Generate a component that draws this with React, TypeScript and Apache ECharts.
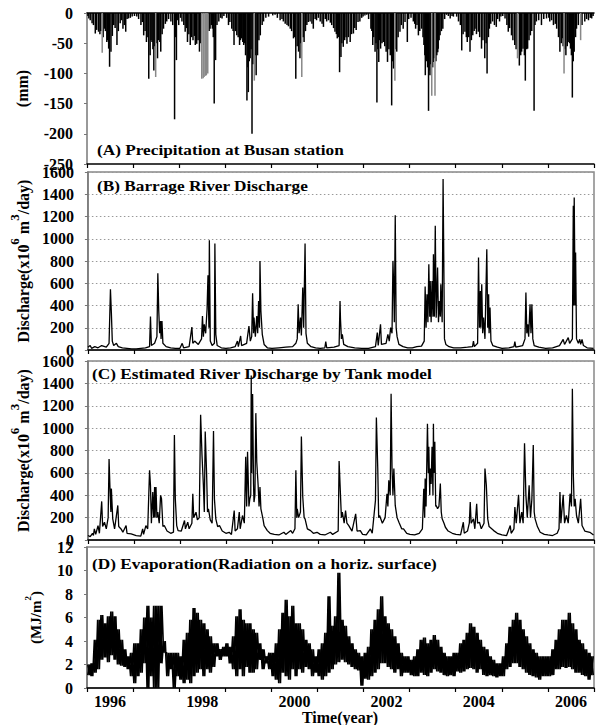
import React, { useEffect, useRef } from 'react';
import * as echarts from 'echarts';

// ---------- DATA (decimal year, value) ----------
const yearLabels = [1996, 1998, 2000, 2002, 2004, 2006];

// (A) daily precipitation at Busan, mm (plotted downward)
const precipBlack: number[][] = [
  [1996.02,-5],[1996.04,-9],[1996.07,-12],[1996.11,-17],[1996.14,-20],[1996.18,-34],[1996.21,-28],[1996.25,-31],[1996.28,-35],[1996.30,-30],[1996.35,-40],[1996.38,-26],[1996.40,-30],[1996.43,-48],[1996.45,-45],[1996.47,-59],[1996.49,-89],[1996.52,-64],[1996.55,-38],[1996.58,-20],[1996.61,-25],[1996.65,-53],[1996.68,-30],[1996.72,-17],[1996.75,-12],[1996.78,-26],[1996.81,-20],[1996.84,-31],[1996.87,-10],[1996.90,-9],[1996.94,-8],[1996.98,-6],
  [1997.03,-5],[1997.08,-6],[1997.12,-10],[1997.17,-20],[1997.20,-15],[1997.23,-37],[1997.26,-30],[1997.29,-48],[1997.32,-40],[1997.34,-109],[1997.37,-70],[1997.39,-45],[1997.41,-48],[1997.43,-60],[1997.45,-95],[1997.47,-55],[1997.51,-50],[1997.53,-75],[1997.55,-45],[1997.58,-48],[1997.60,-64],[1997.63,-35],[1997.66,-26],[1997.70,-18],[1997.73,-14],[1997.77,-10],[1997.82,-14],[1997.86,-20],[1997.90,-176],[1997.92,-40],[1997.94,-78],[1997.97,-12],[1997.99,-20],
  [1998.03,-8],[1998.06,-14],[1998.10,-20],[1998.13,-31],[1998.16,-25],[1998.18,-48],[1998.21,-35],[1998.24,-53],[1998.27,-40],[1998.30,-45],[1998.33,-38],[1998.35,-53],[1998.38,-51],[1998.41,-45],[1998.44,-64],[1998.47,-50],[1998.65,-30],[1998.67,-26],[1998.70,-20],[1998.72,-26],[1998.74,-40],[1998.76,-150],[1998.79,-78],[1998.82,-20],[1998.86,-14],[1998.90,-8],[1998.93,-9],[1998.97,-5],
  [1999.03,-8],[1999.07,-20],[1999.10,-15],[1999.14,-26],[1999.17,-30],[1999.19,-53],[1999.22,-30],[1999.25,-37],[1999.28,-40],[1999.31,-53],[1999.33,-45],[1999.35,-42],[1999.38,-48],[1999.40,-53],[1999.42,-50],[1999.44,-70],[1999.47,-145],[1999.49,-90],[1999.50,-131],[1999.52,-80],[1999.54,-75],[1999.56,-60],[1999.58,-200],[1999.60,-85],[1999.65,-70],[1999.67,-103],[1999.70,-70],[1999.73,-45],[1999.76,-37],[1999.80,-20],[1999.83,-14],[1999.88,-8],[1999.94,-6],
  [2000.03,-4],[2000.08,-3],[2000.13,-8],[2000.19,-12],[2000.23,-10],[2000.26,-14],[2000.30,-18],[2000.34,-20],[2000.37,-22],[2000.41,-26],[2000.44,-30],[2000.48,-42],[2000.50,-40],[2000.53,-109],[2000.56,-55],[2000.59,-64],[2000.62,-75],[2000.64,-50],[2000.69,-40],[2000.71,-48],[2000.74,-30],[2000.77,-20],[2000.80,-15],[2000.84,-14],[2000.88,-18],[2000.91,-26],[2000.95,-10],[2000.98,-12],
  [2001.02,-8],[2001.06,-14],[2001.10,-18],[2001.13,-23],[2001.17,-10],[2001.20,-14],[2001.24,-12],[2001.28,-16],[2001.31,-20],[2001.35,-25],[2001.38,-31],[2001.41,-35],[2001.43,-42],[2001.46,-40],[2001.48,-98],[2001.51,-73],[2001.53,-50],[2001.56,-56],[2001.59,-45],[2001.62,-40],[2001.64,-51],[2001.67,-40],[2001.71,-48],[2001.74,-35],[2001.78,-34],[2001.81,-25],[2001.84,-28],[2001.88,-15],[2001.92,-14],[2001.96,-8],[2001.99,-6],
  [2002.03,-4],[2002.07,-3],[2002.11,-10],[2002.16,-26],[2002.18,-30],[2002.20,-53],[2002.22,-40],[2002.25,-64],[2002.27,-50],[2002.29,-148],[2002.31,-60],[2002.33,-81],[2002.35,-45],[2002.37,-59],[2002.40,-50],[2002.43,-48],[2002.46,-55],[2002.49,-64],[2002.52,-81],[2002.55,-60],[2002.58,-70],[2002.61,-153],[2002.63,-80],[2002.65,-92],[2002.70,-60],[2002.72,-64],[2002.75,-40],[2002.79,-31],[2002.82,-20],[2002.86,-26],[2002.90,-15],[2002.95,-48],[2002.98,-10],
  [2003.03,-8],[2003.08,-14],[2003.11,-18],[2003.13,-26],[2003.16,-20],[2003.19,-37],[2003.22,-30],[2003.26,-26],[2003.29,-40],[2003.31,-53],[2003.33,-70],[2003.34,-103],[2003.36,-80],[2003.37,-75],[2003.39,-90],[2003.41,-162],[2003.42,-95],[2003.44,-103],[2003.46,-85],[2003.50,-90],[2003.51,-81],[2003.53,-75],[2003.57,-80],[2003.59,-70],[2003.61,-65],[2003.62,-59],[2003.64,-45],[2003.66,-37],[2003.69,-30],[2003.72,-26],[2003.76,-10],[2003.80,-3],[2003.84,-5],[2003.88,-9],[2003.92,-5],[2003.95,-6],
  [2004.02,-6],[2004.06,-14],[2004.10,-20],[2004.13,-62],[2004.16,-35],[2004.20,-31],[2004.23,-40],[2004.25,-48],[2004.28,-40],[2004.31,-64],[2004.34,-45],[2004.37,-37],[2004.40,-30],[2004.42,-26],[2004.45,-35],[2004.49,-31],[2004.52,-40],[2004.56,-59],[2004.59,-45],[2004.63,-75],[2004.66,-50],[2004.68,-100],[2004.71,-40],[2004.73,-26],[2004.76,-18],[2004.80,-14],[2004.84,-20],[2004.88,-23],[2004.91,-10],[2004.95,-14],[2004.98,-6],
  [2005.02,-5],[2005.07,-9],[2005.11,-20],[2005.14,-31],[2005.17,-25],[2005.21,-37],[2005.24,-45],[2005.28,-53],[2005.31,-60],[2005.38,-87],[2005.41,-70],[2005.43,-64],[2005.46,-59],[2005.49,-70],[2005.51,-112],[2005.54,-60],[2005.56,-59],[2005.59,-45],[2005.62,-37],[2005.65,-30],[2005.70,-162],[2005.72,-20],[2005.75,-14],[2005.80,-12],[2005.86,-20],[2005.91,-10],[2005.97,-9],
  [2006.02,-8],[2006.04,-14],[2006.08,-12],[2006.12,-20],[2006.16,-18],[2006.19,-26],[2006.23,-40],[2006.26,-64],[2006.29,-50],[2006.31,-42],[2006.33,-55],[2006.37,-60],[2006.39,-70],[2006.42,-55],[2006.44,-48],[2006.47,-50],[2006.49,-59],[2006.51,-70],[2006.53,-140],[2006.55,-80],[2006.57,-64],[2006.60,-40],[2006.62,-26],[2006.66,-20],[2006.74,-20],[2006.80,-14],[2006.84,-10],[2006.88,-12],[2006.92,-8],[2006.95,-9],[2006.98,-5],
];
const precipGray: number[][] = [
  [1996.33,-66],[1997.49,-106],[1998.49,-109],[1998.52,-108],[1998.54,-106],[1998.57,-104],[1998.59,-103],[1998.62,-100],
  [1999.63,-112],[2000.66,-106],[2002.68,-112],[2003.48,-137],[2003.55,-137],[2005.34,-75],[2006.35,-100],[2006.71,-45],
];

// (B) observed barrage river discharge, x10^6 m3/day
const barrageDischarge: number[][] = [
  [1996.00,25],[1996.05,40],[1996.08,15],[1996.15,30],[1996.22,20],[1996.30,40],[1996.40,25],[1996.46,60],[1996.49,546],[1996.51,336],[1996.53,80],[1996.56,40],[1996.62,60],[1996.66,30],[1996.75,20],[1996.85,15],[1996.95,10],
  [1997.05,10],[1997.15,15],[1997.25,20],[1997.34,30],[1997.36,300],[1997.38,40],[1997.45,60],[1997.50,120],[1997.52,690],[1997.54,351],[1997.56,150],[1997.58,261],[1997.59,100],[1997.61,261],[1997.63,60],[1997.70,30],[1997.80,20],[1997.90,15],
  [1998.00,15],[1998.05,60],[1998.08,20],[1998.20,30],[1998.26,207],[1998.28,60],[1998.32,80],[1998.40,50],[1998.47,100],[1998.49,306],[1998.51,120],[1998.53,231],[1998.56,150],[1998.59,366],[1998.61,672],[1998.63,200],[1998.64,987],[1998.66,81],[1998.70,40],[1998.75,60],[1998.76,957],[1998.78,141],[1998.81,40],[1998.90,20],
  [1999.00,15],[1999.10,20],[1999.20,30],[1999.25,81],[1999.27,30],[1999.32,126],[1999.34,40],[1999.45,60],[1999.50,216],[1999.53,80],[1999.56,120],[1999.58,510],[1999.60,150],[1999.61,291],[1999.64,120],[1999.67,306],[1999.69,150],[1999.71,441],[1999.73,200],[1999.74,801],[1999.76,351],[1999.79,141],[1999.83,50],[1999.90,20],
  [2000.00,15],[2000.15,20],[2000.30,25],[2000.45,30],[2000.52,60],[2000.55,100],[2000.57,411],[2000.59,150],[2000.62,291],[2000.64,130],[2000.67,561],[2000.69,200],[2000.72,957],[2000.74,150],[2000.77,60],[2000.85,30],[2000.95,20],
  [2001.05,15],[2001.15,20],[2001.17,75],[2001.19,20],[2001.35,25],[2001.46,40],[2001.48,441],[2001.49,276],[2001.51,100],[2001.53,141],[2001.56,50],[2001.65,30],[2001.80,20],[2001.95,15],
  [2002.10,15],[2002.25,30],[2002.29,156],[2002.31,40],[2002.36,231],[2002.38,50],[2002.48,60],[2002.52,141],[2002.55,80],[2002.58,201],[2002.61,150],[2002.63,801],[2002.65,516],[2002.66,250],[2002.68,1212],[2002.70,200],[2002.72,120],[2002.76,50],[2002.85,30],[2002.95,20],
  [2003.05,20],[2003.15,30],[2003.25,35],[2003.31,80],[2003.33,570],[2003.35,200],[2003.37,501],[2003.39,250],[2003.41,771],[2003.43,300],[2003.44,621],[2003.46,250],[2003.48,621],[2003.50,300],[2003.51,861],[2003.53,300],[2003.55,1116],[2003.57,291],[2003.60,741],[2003.62,250],[2003.64,441],[2003.66,300],[2003.67,591],[2003.70,250],[2003.72,1536],[2003.75,100],[2003.78,50],[2003.85,30],[2003.95,20],
  [2004.10,20],[2004.25,25],[2004.36,30],[2004.38,81],[2004.40,30],[2004.47,60],[2004.49,831],[2004.51,200],[2004.53,531],[2004.54,200],[2004.56,591],[2004.58,150],[2004.60,291],[2004.63,100],[2004.67,906],[2004.69,200],[2004.71,501],[2004.72,150],[2004.74,381],[2004.76,80],[2004.80,40],[2004.90,25],
  [2005.00,15],[2005.15,20],[2005.26,30],[2005.28,75],[2005.30,25],[2005.45,40],[2005.50,100],[2005.52,516],[2005.54,150],[2005.56,231],[2005.58,120],[2005.61,411],[2005.63,150],[2005.65,411],[2005.67,100],[2005.70,40],[2005.80,25],[2005.95,15],
  [2006.10,20],[2006.25,40],[2006.33,96],[2006.36,50],[2006.44,111],[2006.47,60],[2006.53,100],[2006.55,1296],[2006.56,400],[2006.57,1371],[2006.59,400],[2006.60,876],[2006.62,100],[2006.66,60],[2006.69,96],[2006.71,50],[2006.74,96],[2006.77,40],[2006.85,20],[2006.99,15],
];

// (C) river discharge estimated by the Tank model, x10^6 m3/day
const tankDischarge: number[][] = [
  [1996.00,40],[1996.05,30],[1996.10,60],[1996.12,40],[1996.14,99],[1996.17,50],[1996.22,129],[1996.25,60],[1996.30,345],[1996.32,120],[1996.36,159],[1996.40,100],[1996.44,200],[1996.46,723],[1996.48,459],[1996.50,250],[1996.51,459],[1996.54,189],[1996.58,100],[1996.65,309],[1996.67,120],[1996.72,99],[1996.76,70],[1996.83,129],[1996.85,60],[1996.94,54],
  [1997.05,40],[1997.15,35],[1997.19,99],[1997.21,50],[1997.26,129],[1997.30,100],[1997.34,624],[1997.36,489],[1997.38,150],[1997.41,429],[1997.43,200],[1997.45,474],[1997.46,200],[1997.48,474],[1997.50,200],[1997.52,249],[1997.55,150],[1997.58,399],[1997.60,369],[1997.63,120],[1997.66,129],[1997.72,80],[1997.80,60],[1997.86,70],[1997.88,939],[1997.90,369],[1997.93,129],[1997.96,84],
  [1998.03,80],[1998.10,174],[1998.12,100],[1998.17,159],[1998.20,100],[1998.26,150],[1998.28,414],[1998.30,200],[1998.35,249],[1998.38,180],[1998.42,200],[1998.45,1119],[1998.48,759],[1998.51,489],[1998.53,250],[1998.55,969],[1998.58,594],[1998.60,250],[1998.62,279],[1998.66,180],[1998.70,150],[1998.73,975],[1998.75,369],[1998.78,189],[1998.82,120],[1998.86,129],[1998.92,80],
  [1999.00,60],[1999.07,69],[1999.12,50],[1999.18,264],[1999.20,80],[1999.25,100],[1999.29,249],[1999.31,100],[1999.36,219],[1999.40,150],[1999.43,744],[1999.45,300],[1999.47,789],[1999.50,300],[1999.52,369],[1999.54,400],[1999.55,1470],[1999.56,600],[1999.58,1305],[1999.60,500],[1999.61,339],[1999.63,400],[1999.65,1134],[1999.67,699],[1999.70,489],[1999.72,300],[1999.74,474],[1999.76,279],[1999.80,200],[1999.83,129],[1999.90,84],[1999.96,60],
  [2000.05,50],[2000.15,45],[2000.26,69],[2000.30,50],[2000.41,84],[2000.45,60],[2000.50,100],[2000.52,624],[2000.54,200],[2000.55,279],[2000.58,200],[2000.62,250],[2000.64,924],[2000.67,384],[2000.70,200],[2000.72,189],[2000.77,100],[2000.84,84],[2000.90,60],[2000.98,69],
  [2001.05,50],[2001.15,45],[2001.27,69],[2001.32,50],[2001.44,80],[2001.46,705],[2001.49,399],[2001.51,200],[2001.53,249],[2001.57,150],[2001.60,264],[2001.63,150],[2001.67,129],[2001.74,80],[2001.82,234],[2001.85,80],[2001.92,84],[2001.97,50],
  [2002.05,45],[2002.14,99],[2002.18,60],[2002.25,354],[2002.27,1095],[2002.30,639],[2002.32,200],[2002.34,219],[2002.40,150],[2002.46,200],[2002.50,414],[2002.52,300],[2002.54,534],[2002.57,400],[2002.59,1308],[2002.61,639],[2002.63,400],[2002.65,639],[2002.68,309],[2002.72,200],[2002.76,159],[2002.82,100],[2002.86,99],[2002.93,60],
  [2003.00,50],[2003.10,45],[2003.20,60],[2003.27,100],[2003.30,459],[2003.32,200],[2003.33,549],[2003.35,300],[2003.38,1038],[2003.40,600],[2003.41,834],[2003.43,400],[2003.44,639],[2003.46,500],[2003.48,834],[2003.50,400],[2003.51,1038],[2003.52,600],[2003.54,879],[2003.56,300],[2003.57,309],[2003.60,279],[2003.63,300],[2003.66,504],[2003.68,250],[2003.70,189],[2003.74,150],[2003.77,114],[2003.83,80],[2003.92,60],
  [2004.00,50],[2004.10,45],[2004.16,159],[2004.18,60],[2004.25,80],[2004.29,150],[2004.31,339],[2004.33,150],[2004.38,189],[2004.41,100],[2004.45,324],[2004.47,150],[2004.51,159],[2004.55,100],[2004.61,150],[2004.63,639],[2004.66,489],[2004.69,189],[2004.72,120],[2004.82,84],[2004.90,60],
  [2005.00,45],[2005.10,40],[2005.18,129],[2005.20,60],[2005.26,100],[2005.28,294],[2005.31,150],[2005.36,405],[2005.39,150],[2005.43,249],[2005.46,150],[2005.49,864],[2005.52,399],[2005.55,200],[2005.59,489],[2005.62,200],[2005.65,369],[2005.68,849],[2005.70,250],[2005.72,189],[2005.77,120],[2005.83,69],[2005.92,50],
  [2006.00,45],[2006.10,40],[2006.20,60],[2006.24,100],[2006.26,429],[2006.28,150],[2006.33,405],[2006.36,150],[2006.40,219],[2006.44,150],[2006.48,414],[2006.51,300],[2006.53,1353],[2006.55,594],[2006.57,300],[2006.59,369],[2006.62,219],[2006.66,150],[2006.71,369],[2006.74,129],[2006.80,80],[2006.91,69],[2006.99,45],
];

// (D) radiation on a horizontal surface, MJ/m2: upper and lower envelope, 14 readings per year from 1996 to 2006
const radiationHigh: number[] = [
  2.0,2.1,4.1,5.8,6.2,5.5,6.1,6.5,6.1,5.0,4.1,3.3,2.7,3.0,
  3.8,3.8,5.0,6.0,7.0,6.0,7.0,7.0,7.0,4.0,3.0,3.0,3.0,3.0,
  2.7,4.1,4.7,5.8,6.8,6.4,5.8,5.5,5.0,4.4,3.8,3.8,3.3,3.5,
  3.8,3.5,4.4,6.1,6.7,5.8,5.5,5.5,5.0,4.7,3.8,3.3,2.7,3.0,
  3.0,3.8,5.0,6.4,7.5,6.1,7.0,5.5,5.5,5.0,4.1,3.8,3.3,2.7,
  3.3,3.8,4.7,7.8,5.3,6.1,9.8,5.8,5.3,4.4,3.8,3.3,3.0,2.7,
  3.0,3.5,5.0,5.8,6.7,7.8,6.1,5.5,5.0,4.4,3.8,3.0,2.7,2.7,
  2.4,2.7,3.3,4.1,4.3,3.8,4.1,4.5,4.1,3.5,3.0,2.7,2.7,3.0,
  3.0,3.8,4.1,4.7,5.5,5.2,4.7,4.1,3.5,3.3,2.7,2.4,2.1,2.1,
  2.7,3.8,5.2,5.8,6.4,5.8,5.0,4.4,3.8,3.3,3.0,2.7,2.7,2.7,
  2.7,3.3,4.1,5.0,5.8,5.8,6.4,5.5,5.0,4.1,3.8,3.3,3.0,2.7,
];
const radiationLow: number[] = [
  1.1,1.0,1.3,1.6,2.4,2.6,2.2,2.8,2.4,2.0,1.9,1.8,1.6,1.0,
  0.4,1.0,1.3,2.1,0.0,1.0,0.0,0.0,2.1,3.0,1.0,1.6,0.0,1.0,
  0.7,0.4,0.7,0.4,1.0,1.3,1.6,1.0,1.6,1.3,1.8,2.7,2.4,2.7,
  2.7,2.1,1.6,1.0,1.6,1.0,1.8,1.3,1.3,1.6,2.4,1.6,2.1,1.6,
  1.0,0.7,0.4,1.3,1.0,0.7,1.6,1.0,1.6,1.3,1.8,1.6,1.0,1.3,
  1.0,0.7,1.0,1.3,1.6,2.0,2.2,2.4,2.2,2.0,1.8,1.6,1.5,0.2,
  0.8,0.7,1.0,1.3,1.6,2.1,2.1,1.8,1.6,1.3,1.6,1.0,1.3,1.3,
  1.1,1.0,1.0,1.3,1.1,1.0,1.3,1.6,1.4,1.3,1.1,1.0,1.1,1.0,
  1.4,1.3,1.4,1.6,1.7,1.6,1.3,1.6,1.1,1.0,1.1,1.0,0.9,1.0,
  1.0,1.6,1.8,2.1,2.1,1.8,1.6,1.3,1.1,1.0,0.9,0.7,1.0,1.0,
  1.0,1.1,1.6,1.6,1.8,1.7,1.8,1.6,1.3,1.3,1.1,1.0,0.7,1.1,
];
const firstYear = 1996;
const readingsPerYear = 14;

// ---------- CHART ----------
const FONT = 'Liberation Serif';
const labelStyle = { fontFamily: FONT, fontWeight: 'bold' as const, fontSize: 16, color: '#000' };

const grids = [
  { left: 87, top: 13, width: 507, height: 151 },
  { left: 87, top: 172, width: 507, height: 178 },
  { left: 87, top: 361, width: 507, height: 179 },
  { left: 87, top: 547, width: 507, height: 141 },
];

function buildOption() {
  // two interleaved traces between the read low and high values give the dense band of daily values
  const traceA: number[][] = [];
  const traceB: number[][] = [];
  radiationHigh.forEach((hi, i) => {
    const t = firstYear + i / readingsPerYear;
    const lo = radiationLow[i];
    traceA.push([t + 0.25 / readingsPerYear, lo], [t + 0.75 / readingsPerYear, hi]);
    traceB.push([t + 0.25 / readingsPerYear, hi], [t + 0.75 / readingsPerYear, lo]);
  });

  const xBase = (gi: number) => ({
    type: 'value', gridIndex: gi, position: 'bottom', min: 1996, max: 2007, interval: 1,
    axisLine: { onZero: false, lineStyle: { color: '#000', width: 1.5 } },
    axisTick: { show: true, inside: false, length: 4, lineStyle: { color: '#000', width: 1.2 } },
    axisLabel: { show: false }, splitLine: { show: false },
  });

  const yCommon = {
    axisLine: { show: true, lineStyle: { color: '#777', width: 1.5 } },
    axisTick: { show: true, inside: false, length: 3, lineStyle: { color: '#777' } },
    axisLabel: { ...labelStyle, margin: 14, formatter: (v: number) => String(v) },
    nameLocation: 'middle', nameRotate: 90,
  };
  const richT = { fontFamily: FONT, fontWeight: 'bold', fontSize: 16, lineHeight: 23, verticalAlign: 'bottom', color: '#000' };
  const richS = { fontFamily: FONT, fontWeight: 'bold', fontSize: 13, lineHeight: 13, verticalAlign: 'top', color: '#000' };
  const richS2 = { fontFamily: FONT, fontWeight: 'bold', fontSize: 9, lineHeight: 9, verticalAlign: 'top', color: '#000' };
  const dotted = { show: true, lineStyle: { color: '#999', type: [1.5, 2.5], width: 1 } };
  const titleFont = `bold 15px "${FONT}"`;

  return {
    animation: false,
    backgroundColor: '#fff',
    grid: [
      { ...grids[0], show: false },
      { ...grids[1], show: true, borderColor: '#888', borderWidth: 1.5 },
      { ...grids[2], show: true, borderColor: '#888', borderWidth: 1.5 },
      { ...grids[3], show: true, borderColor: '#888', borderWidth: 1.5 },
    ],
    xAxis: [
      xBase(0), xBase(1), xBase(2), xBase(3),
      {
        type: 'value', gridIndex: 3, position: 'bottom', min: 1996, max: 2007, interval: 0.5,
        axisLine: { show: false, onZero: false }, axisTick: { show: false }, splitLine: { show: false },
        axisLabel: {
          ...labelStyle, margin: 5,
          formatter: (v: number) => {
            const y = Math.floor(v);
            return Math.abs(v - y - 0.5) < 1e-6 && yearLabels.includes(y) ? String(y) : '';
          },
        },
      },
      {
        type: 'value', gridIndex: 0, position: 'top', min: 1996, max: 2007,
        axisLine: { onZero: false, lineStyle: { color: '#000', width: 1.5 } },
        axisTick: { show: false }, axisLabel: { show: false }, splitLine: { show: false },
      },
    ],
    yAxis: [
      {
        ...yCommon, type: 'value', gridIndex: 0, min: -250, max: 0, interval: 50, splitLine: { show: false },
        name: '(mm)', nameGap: 57, nameTextStyle: { ...labelStyle },
      },
      {
        ...yCommon, type: 'value', gridIndex: 1, min: 0, max: 1600, interval: 200, splitLine: dotted,
        name: '{t|Discharge(x10}{s|6}{t| m}{s|3}{t|/day)}', nameGap: 49,
        nameTextStyle: { rich: { t: richT, s: richS } },
      },
      {
        ...yCommon, type: 'value', gridIndex: 2, min: 0, max: 1600, interval: 200, splitLine: dotted,
        name: '{t|Discharge(x10}{s|6}{t| m}{s|3}{t|/day)}', nameGap: 49,
        nameTextStyle: { rich: { t: richT, s: richS } },
      },
      {
        ...yCommon, type: 'value', gridIndex: 3, min: 0, max: 12, interval: 2, splitLine: { show: false },
        name: '{t|(MJ/m}{s|2}{t|)}', nameGap: 44,
        nameTextStyle: { rich: { t: { ...richT, fontSize: 15, lineHeight: 20 }, s: richS2 } },
      },
    ],
    series: [
      {
        type: 'bar', xAxisIndex: 0, yAxisIndex: 0, data: precipBlack, barWidth: 1.5, barGap: '-100%',
        itemStyle: { color: '#000' }, silent: true,
      },
      {
        type: 'bar', xAxisIndex: 0, yAxisIndex: 0, data: precipGray, barWidth: 1.5, barGap: '-100%',
        itemStyle: { color: '#888' }, silent: true,
      },
      {
        type: 'line', xAxisIndex: 1, yAxisIndex: 1, data: barrageDischarge, showSymbol: false,
        lineStyle: { color: '#000', width: 1.3 }, silent: true,
      },
      {
        type: 'line', xAxisIndex: 2, yAxisIndex: 2, data: tankDischarge, showSymbol: false,
        lineStyle: { color: '#000', width: 1.3 }, silent: true,
      },
      {
        type: 'line', xAxisIndex: 3, yAxisIndex: 3, data: traceA, showSymbol: false,
        lineStyle: { color: '#000', width: 1.7 }, silent: true,
      },
      {
        type: 'line', xAxisIndex: 3, yAxisIndex: 3, data: traceB, showSymbol: false,
        lineStyle: { color: '#000', width: 1.7 }, silent: true,
      },
    ],
    graphic: [
      { type: 'text', x: 97, y: 150, scaleX: 1.15, style: { text: '(A) Precipitation at Busan station', font: titleFont, fill: '#000', verticalAlign: 'middle' } },
      { type: 'text', x: 97, y: 186, scaleX: 1.15, style: { text: '(B) Barrage River Discharge', font: titleFont, fill: '#000', verticalAlign: 'middle' } },
      { type: 'text', x: 92, y: 374, scaleX: 1.15, style: { text: '(C) Estimated River Discharge by Tank model', font: titleFont, fill: '#000', verticalAlign: 'middle' } },
      { type: 'text', x: 92, y: 564, scaleX: 1.15, style: { text: '(D) Evaporation(Radiation on a horiz. surface)', font: titleFont, fill: '#000', verticalAlign: 'middle' } },
      { type: 'text', x: 340, y: 717, style: { text: 'Time(year)', font: `bold 16px "${FONT}"`, fill: '#000', align: 'center', verticalAlign: 'middle' } },
    ],
  };
}

export default function App() {
  const ref = useRef<HTMLDivElement>(null);
  useEffect(() => {
    if (!ref.current) return;
    const chart = echarts.init(ref.current, null, { renderer: 'svg' });
    chart.setOption(buildOption() as any);
    return () => chart.dispose();
  }, []);
  return <div ref={ref} style={{ position: 'absolute', left: 0, top: 0, width: 598, height: 725 }} />;
}
